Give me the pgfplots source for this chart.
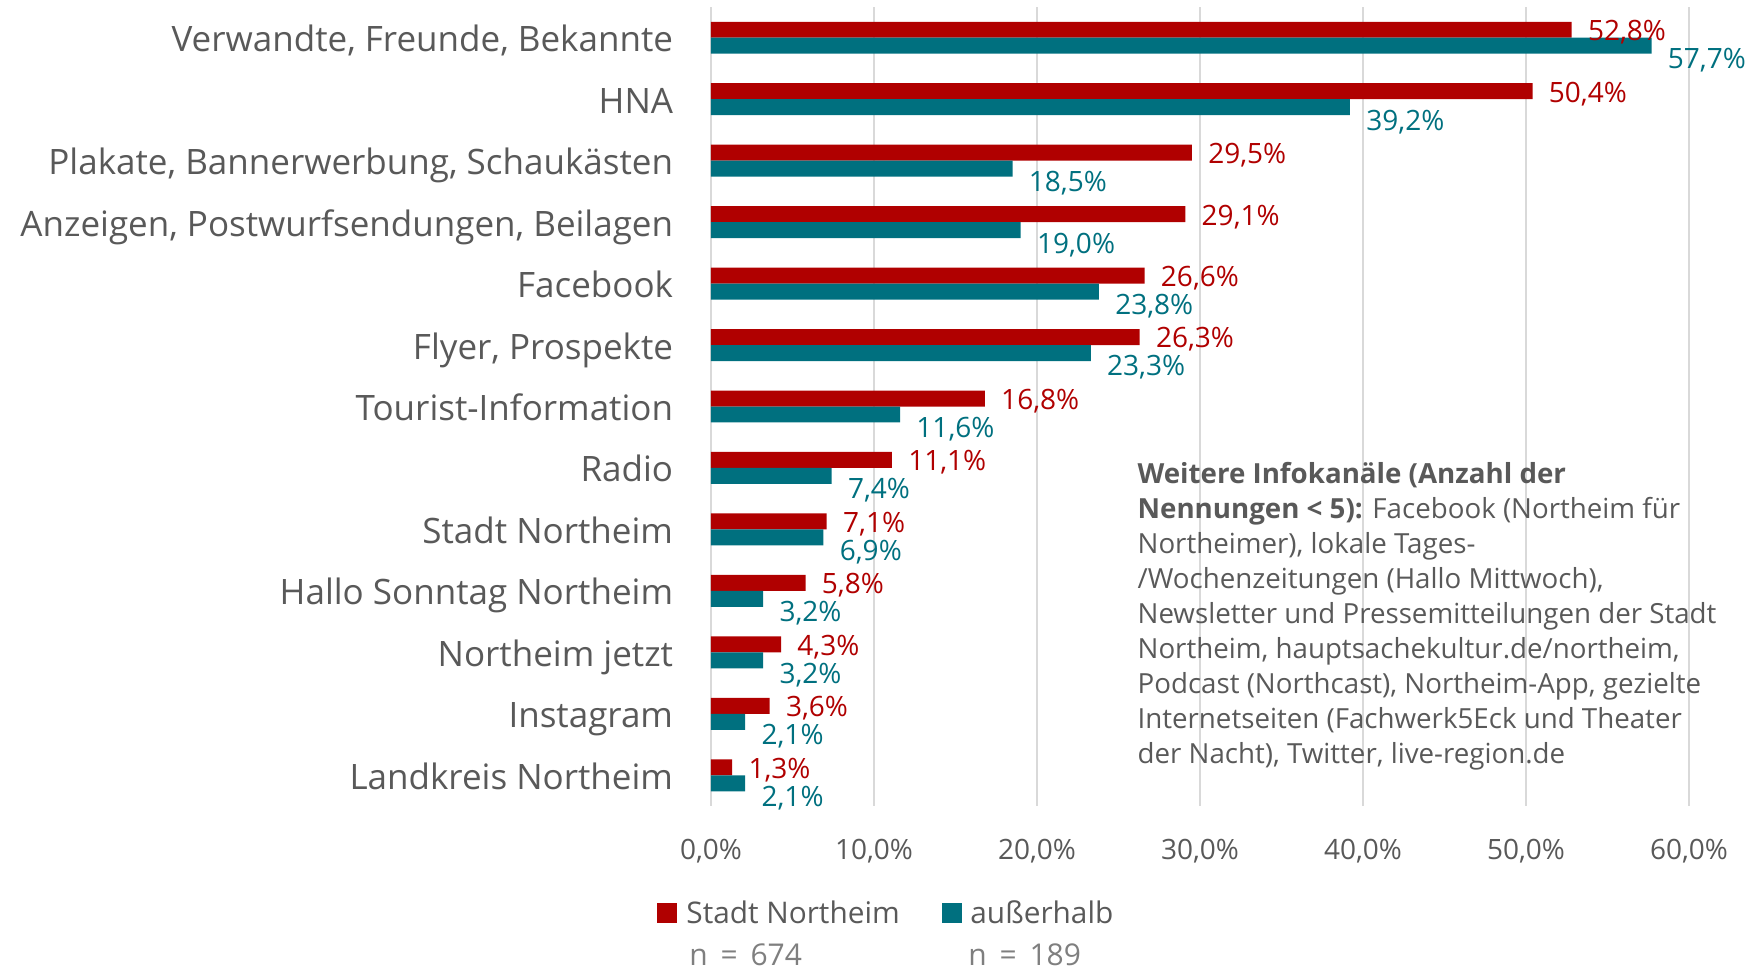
\documentclass[border=0pt]{standalone}
\usepackage{fontspec}
\setmainfont{Open Sans}
\usepackage{pgfplots}
\usepackage{pgfplotstable}
\pgfplotsset{compat=1.18}

\definecolor{cRed}{HTML}{B00000}
\definecolor{cTeal}{HTML}{00707F}
\definecolor{txt}{HTML}{595959}
\definecolor{light}{HTML}{7F7F7F}
\definecolor{grd}{HTML}{D9D9D9}

% idx 0 = top row
\pgfplotstableread{
idx stadt ausser
0  52.8 57.7
1  50.4 39.2
2  29.5 18.5
3  29.1 19.0
4  26.6 23.8
5  26.3 23.3
6  16.8 11.6
7  11.1 7.4
8  7.1  6.9
9  5.8  3.2
10 4.3  3.2
11 3.6  2.1
12 1.3  2.1
}\data

\begin{document}
\begin{tikzpicture}
\begin{axis}[
    xbar, bar width=0.26,
    scale only axis, width=489pt, height=399.5pt,
    xmin=0, xmax=60, ymin=-0.5, ymax=12.5, y dir=reverse,
    clip=false,
    axis line style={draw=none}, tick style={draw=none},
    xmajorgrids, major grid style={grd, line width=1pt},
    xtick={0,10,...,60},
    xticklabels={{0,0\%},{10,0\%},{20,0\%},{30,0\%},{40,0\%},{50,0\%},{60,0\%}},
    xticklabel style={anchor=base, inner sep=0pt, yshift=-26.8pt, text=txt, font=\fontsize{14}{14}\selectfont},
    ytick={0,...,12},
    yticklabels={Verwandte{,} Freunde{,} Bekannte, HNA, Plakate{,} Bannerwerbung{,} Schaukästen,
      Anzeigen{,} Postwurfsendungen{,} Beilagen, Facebook, Flyer{,} Prospekte, Tourist-Information,
      Radio, Stadt Northeim, Hallo Sonntag Northeim, Northeim jetzt, Instagram, Landkreis Northeim},
    yticklabel style={anchor=base east, inner sep=0pt, xshift=-14.5pt, yshift=-7pt, text=txt, font=\fontsize{17.5}{17.5}\selectfont},
    point meta=x,
    nodes near coords={\pgfmathprintnumber[fixed, fixed zerofill, precision=1, use comma, assume math mode=true]{\pgfplotspointmeta}\%},
    every node near coord/.append style={anchor=west, inner sep=0pt, xshift=8pt, font=\fontsize{14}{14}\selectfont},
]
\addplot[fill=cRed, draw=none, bar shift=-0.13,
    every node near coord/.append style={text=cRed, yshift=-1.3pt}] table[x=stadt, y=idx] {\data};
\addplot[fill=cTeal, draw=none, bar shift=0.13,
    every node near coord/.append style={text=cTeal, yshift=-7.3pt}] table[x=ausser, y=idx] {\data};

\coordinate (O) at (axis description cs:0,0);
\coordinate (bbsw) at (axis description cs:-0.72699,-0.20526);
\coordinate (bbne) at (axis description cs:1.05828,1.00876);

\node[anchor=north west, align=left, inner sep=0pt, text=txt, font=\fontsize{13.85}{17.5}\selectfont]
  at (axis description cs:0.4358,0.4305)
  {\textbf{Weitere Infokanäle (Anzahl der}\\
   \textbf{Nennungen < 5):} Facebook (Northeim für\\
   Northeimer), lokale Tages-\\
   /Wochenzeitungen (Hallo Mittwoch),\\
   Newsletter und Pressemitteilungen der Stadt\\
   Northeim, hauptsachekultur.de/northeim,\\
   Podcast (Northcast), Northeim-App, gezielte\\
   Internetseiten (Fachwerk5Eck und Theater\\
   der Nacht), Twitter, live-region.de};
\end{axis}

% legend
\fill[cRed] ([xshift=-27pt, yshift=-48.5pt]O) rectangle ([xshift=-17pt, yshift=-58.5pt]O);
\fill[cTeal] ([xshift=115.5pt, yshift=-48.5pt]O) rectangle ([xshift=125.5pt, yshift=-58.5pt]O);
\node[anchor=base west, inner sep=0pt, text=txt, font=\fontsize{14.9}{14.9}\selectfont]
  at ([xshift=-12.5pt, yshift=-58.7pt]O) {Stadt Northeim};
\node[anchor=base west, inner sep=0pt, text=txt, font=\fontsize{14.9}{14.9}\selectfont]
  at ([xshift=129.5pt, yshift=-58.7pt]O) {außerhalb};
\node[anchor=base west, inner sep=0pt, text=light, font=\fontsize{15}{15}\selectfont]
  at ([xshift=-11pt, yshift=-79.5pt]O) {n \,=\, 674};
\node[anchor=base west, inner sep=0pt, text=light, font=\fontsize{15}{15}\selectfont]
  at ([xshift=128.5pt, yshift=-79.5pt]O) {n \,=\, 189};

\pgfresetboundingbox
\path (bbsw) rectangle (bbne);
\end{tikzpicture}
\end{document}
